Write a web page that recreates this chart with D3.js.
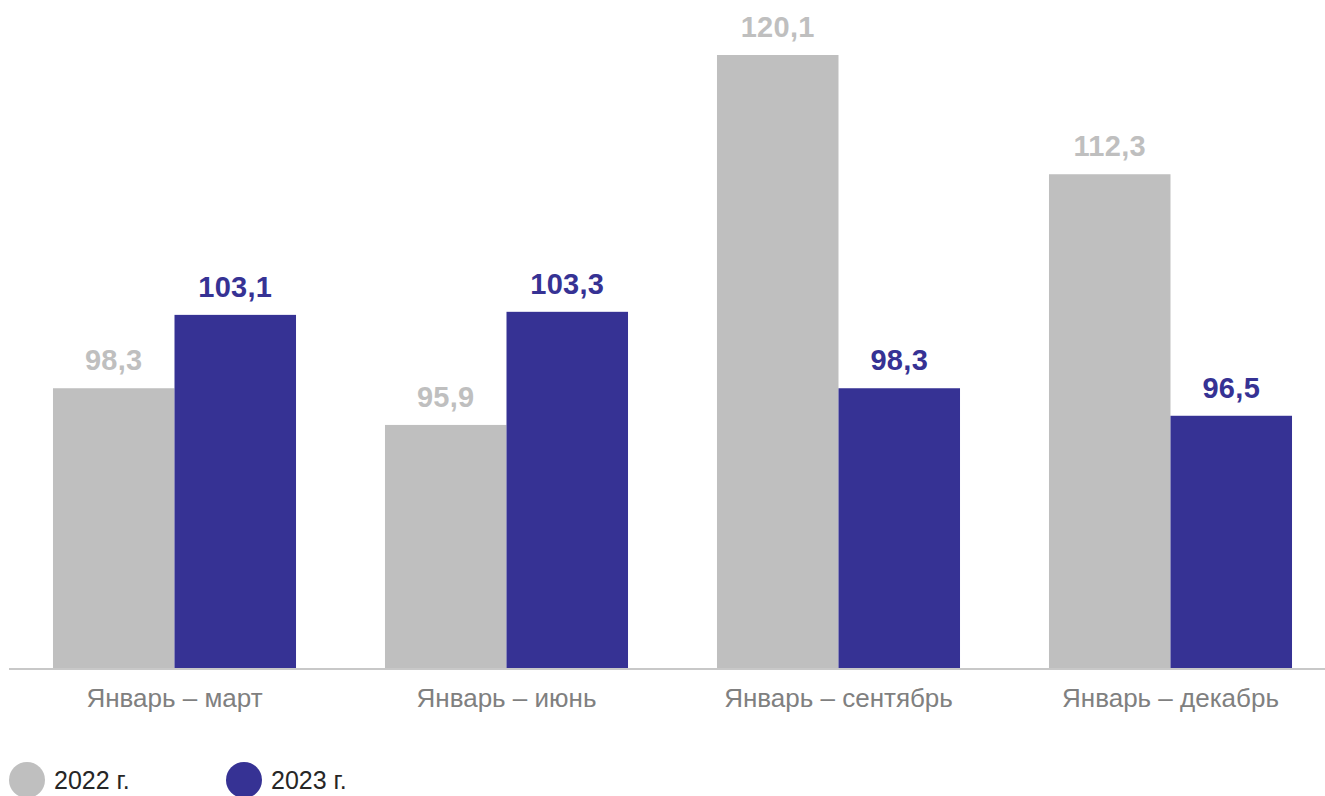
<!DOCTYPE html>
<html><head><meta charset="utf-8">
<script src="https://cdn.jsdelivr.net/npm/d3@7"></script>
<style>body{margin:0;background:#fff}svg{display:block;font-family:"Liberation Sans",Arial,sans-serif}</style>
</head><body><svg id="c" width="1325" height="796"></svg>
<script>
const categories = ["Январь – март", "Январь – июнь", "Январь – сентябрь", "Январь – декабрь"];
const seriesNames = ["2022 г.", "2023 г."];
const values2022 = [98.3, 95.9, 120.1, 112.3];
const values2023 = [103.1, 103.3, 98.3, 96.5];
const colors = ["#bfbfbf", "#363294"];

const svg = d3.select("#c");
const baseY = 668;
const x = d3.scaleBand().domain(categories).range([8.5, 1336.5]).paddingInner(0.268).paddingOuter(0.134);
const xs = d3.scaleBand().domain(seriesNames).range([0, x.bandwidth()]);
const y = d3.scaleLinear().domain([80, 120.1]).range([baseY, 55]);
const fmt = v => d3.format(".1f")(v).replace(".", ",");

const data = categories.map((c, i) => ({c, vals: [values2022[i], values2023[i]]}));
const g = svg.selectAll("g.grp").data(data).join("g").attr("class","grp")
  .attr("transform", d => `translate(${x(d.c)},0)`);
g.selectAll("rect").data(d => d.vals.map((v, k) => ({v, k}))).join("rect")
  .attr("x", d => xs(seriesNames[d.k])).attr("width", xs.bandwidth())
  .attr("y", d => y(d.v)).attr("height", d => baseY - y(d.v))
  .attr("fill", d => colors[d.k]);
g.selectAll("text.val").data(d => d.vals.map((v, k) => ({v, k}))).join("text").attr("class","val")
  .attr("x", d => xs(seriesNames[d.k]) + xs.bandwidth()/2).attr("y", d => y(d.v) - 18)
  .attr("text-anchor","middle").attr("font-size", 29).attr("font-weight","bold")
  .attr("letter-spacing", 0.3)
  .attr("fill", d => colors[d.k]).text(d => fmt(d.v));

// axis
const ax = svg.append("g").attr("transform", `translate(0,${baseY+1})`)
  .call(d3.axisBottom(x).tickSize(0).tickPadding(20));
ax.select(".domain").attr("stroke", "#c8c8c8").attr("stroke-width", 2).attr("d", "M9,0H1325");
ax.selectAll("text").attr("font-size", 26).attr("fill", "#808080").attr("font-family", "Liberation Sans, Arial, sans-serif");

// legend
const leg = svg.append("g");
const legX = [27, 244];
seriesNames.forEach((s, i) => {
  leg.append("circle").attr("cx", legX[i]).attr("cy", 780).attr("r", 18).attr("fill", colors[i]);
  leg.append("text").attr("x", legX[i] + 27).attr("y", 789).attr("font-size", 25).attr("fill", "#262626").text(s);
});
</script></body></html>
